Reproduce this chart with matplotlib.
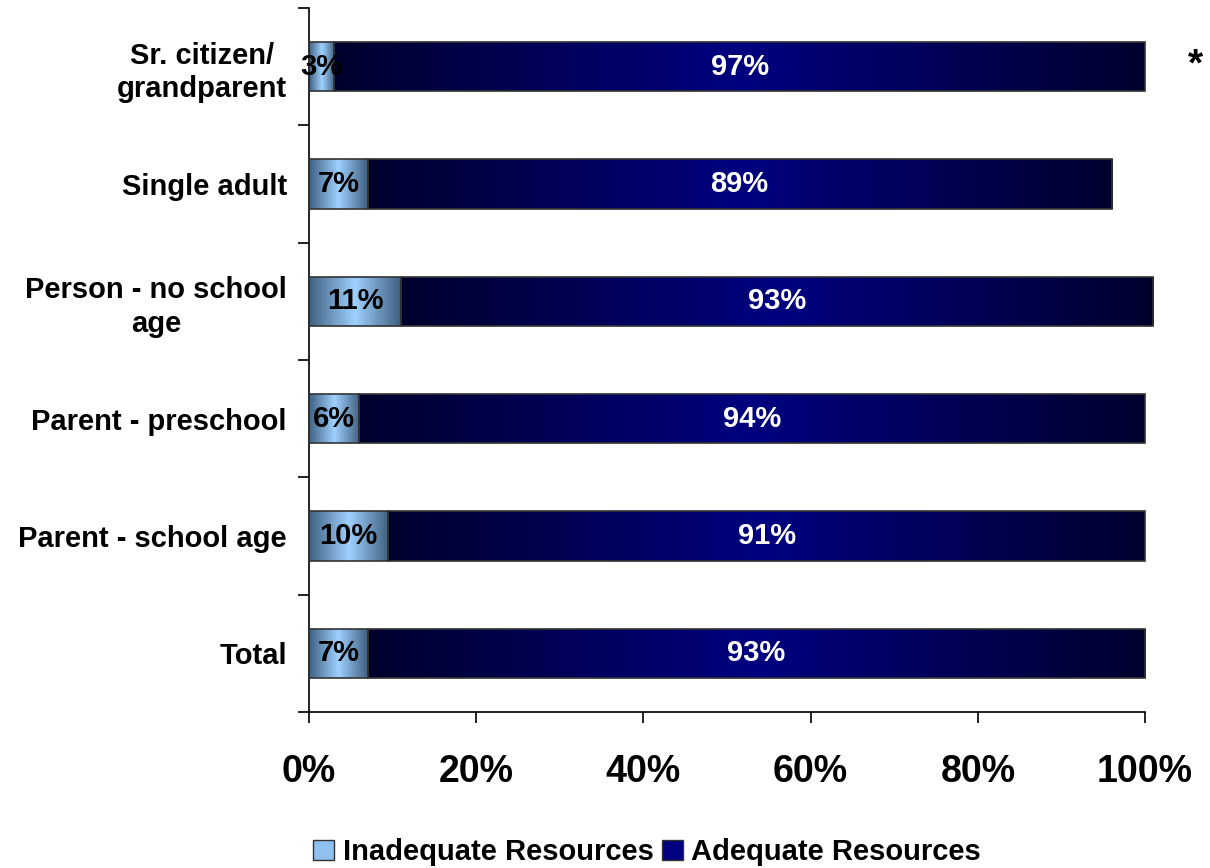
import numpy as np
import matplotlib.pyplot as plt
from matplotlib.colors import LinearSegmentedColormap
from matplotlib.patches import Patch

plt.rcParams['font.family'] = ['Liberation Sans', 'DejaVu Sans']
plt.rcParams['font.weight'] = 'bold'

# top to bottom
categories = ["Sr. citizen/\ngrandparent", "Single adult", "Person - no school\nage",
              "Parent - preschool", "Parent - school age", "Total"]
inadequate = [3, 7, 11, 6, 9.5, 7]
adequate = [97, 89, 90, 94, 90.5, 93]
inadequate_labels = ["3%", "7%", "11%", "6%", "10%", "7%"]
adequate_labels = ["97%", "89%", "93%", "94%", "91%", "93%"]

light_cmap = LinearSegmentedColormap.from_list("light", ["#3f6080", "#9fd0ff", "#3f6080"])
dark_cmap = LinearSegmentedColormap.from_list("dark", ["#00002e", "#000080", "#00002e"])
grad = np.linspace(0, 1, 256).reshape(1, -1)

fig = plt.figure(figsize=(12.1, 8.68), dpi=100)
ax = fig.add_axes([0.2554, 0.1797, 0.6909, 0.811])

y = np.arange(len(categories))[::-1]
h = 0.42
bars1 = ax.barh(y, inadequate, height=h, facecolor='none', edgecolor='#333333', lw=1.2, zorder=3)
bars2 = ax.barh(y, adequate, left=inadequate, height=h, facecolor='none', edgecolor='#333333', lw=1.2, zorder=3)

for bars, cmap in [(bars1, light_cmap), (bars2, dark_cmap)]:
    for b in bars:
        b.set_clip_on(False)
        x0, y0 = b.get_x(), b.get_y()
        im = ax.imshow(grad, cmap=cmap, aspect='auto', zorder=2,
                       extent=(x0, x0 + b.get_width(), y0, y0 + b.get_height()))
        im.set_clip_box(fig.bbox)
        im.set_clip_path(b)

for yi, a, b, la, lb in zip(y, inadequate, adequate, inadequate_labels, adequate_labels):
    ax.text(a / 2, yi, la, ha='center', va='center', fontsize=21, fontweight='bold', color='black', zorder=4)
    ax.text(a + b / 2, yi, lb, ha='center', va='center', fontsize=21, fontweight='bold', color='white', zorder=4)

ax.set_xlim(0, 100)
ax.set_ylim(-0.5, len(categories) - 0.5)
ax.set_xticks(range(0, 101, 20))
ax.set_xticklabels([f"{v}%" for v in range(0, 101, 20)], fontsize=27, fontweight='bold')
ax.set_yticks(y)
ax.set_yticklabels(categories, fontsize=21, fontweight='bold', multialignment='center', linespacing=1.25)
ax.set_yticks(np.arange(-0.5, len(categories), 1), minor=True)
ax.tick_params(axis='y', which='major', length=0, pad=16)
ax.tick_params(axis='y', which='minor', length=8, width=1.2, direction='out')
ax.tick_params(axis='x', which='major', length=8, width=1.2, direction='out', pad=22)

for s in ['top', 'right']:
    ax.spines[s].set_visible(False)
for s in ['left', 'bottom']:
    ax.spines[s].set_linewidth(1.2)

fig.text(0.988, 0.925, "*", fontsize=28, fontweight='bold', ha='center', va='center')

handles = [Patch(facecolor='#8fc0ef', edgecolor='#333333', label='Inadequate Resources'),
           Patch(facecolor='#000080', edgecolor='#333333', label='Adequate Resources')]
fig.legend(handles=handles, loc='center', bbox_to_anchor=(0.535, 0.018), ncol=2, frameon=False,
           prop={'size': 21, 'weight': 'bold'}, handlelength=0.7, handleheight=0.7,
           handletextpad=0.3, columnspacing=0.3)

fig.savefig("out.png", dpi=100)
